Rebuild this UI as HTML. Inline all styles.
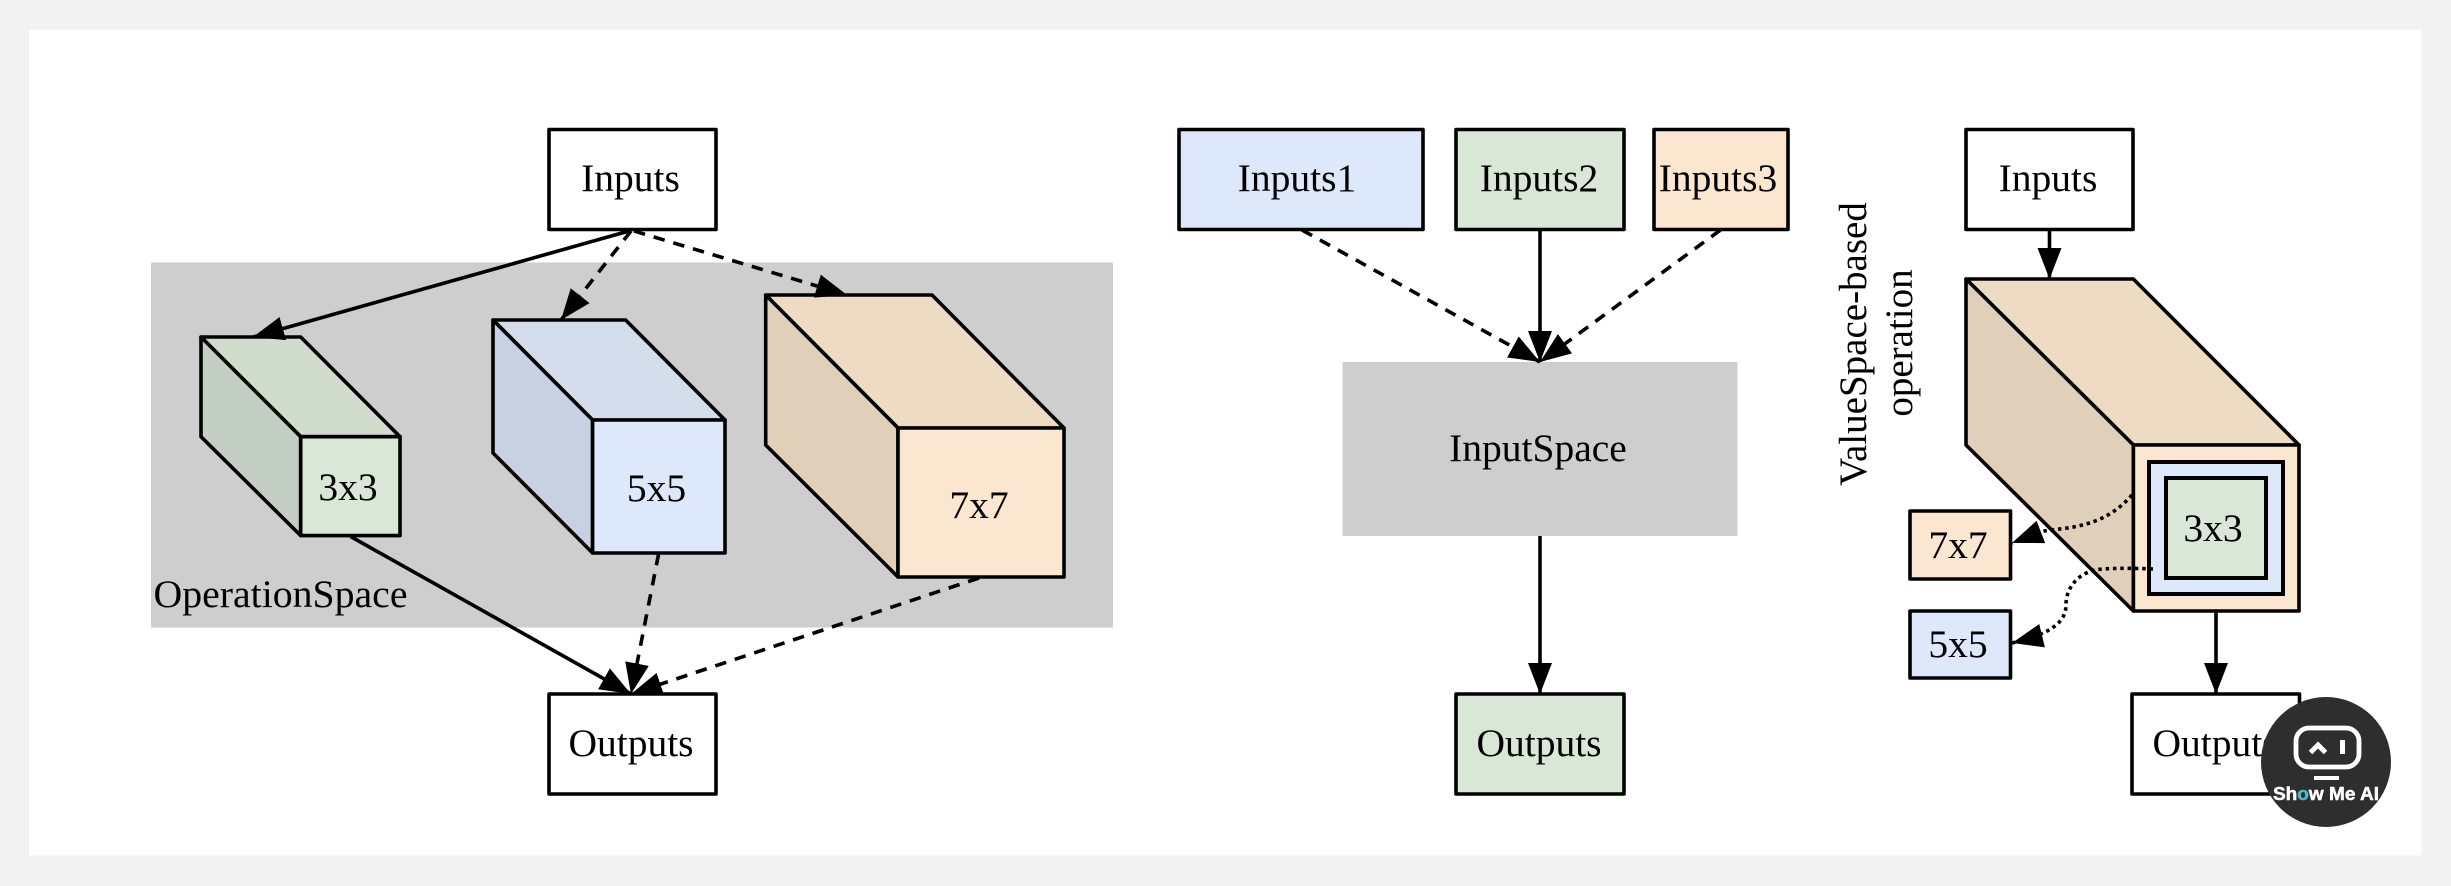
<!DOCTYPE html>
<html><head><meta charset="utf-8"><style>
html,body{margin:0;padding:0;background:#f2f2f2;width:2451px;height:886px;overflow:hidden}
svg{display:block}
text{font-family:"Liberation Serif",serif;font-size:39.5px;fill:#000;text-anchor:middle}
.b{stroke:#000;stroke-width:3.6;stroke-linejoin:round}
.l{stroke:#000;stroke-width:3.6;fill:none;marker-end:url(#a)}
.d{stroke-dasharray:11.500 9}
.o{stroke-dasharray:3.500 3.800;stroke-width:3.600}
</style></head><body>
<svg width="2451" height="886" viewBox="0 0 2451 886" xmlns="http://www.w3.org/2000/svg">
<defs><marker id="a" markerUnits="userSpaceOnUse" markerWidth="36" markerHeight="30" refX="31" refY="12" orient="auto"><path d="M0,0L31,12L0,24z" fill="#000"/></marker></defs>
<rect width="2451" height="886" fill="#f2f2f2"/>
<rect x="29" y="29.500" width="2392.500" height="826" fill="#fff"/>

<!-- Left panel -->
<rect x="151" y="262.500" width="962" height="365" fill="#cecece"/>
<rect class="b" x="549" y="129.500" width="167" height="100" fill="#fff"/>
<text x="630.500" y="191">Inputs</text>
<rect class="b" x="549" y="694" width="167" height="100" fill="#fff"/>
<text x="631" y="756">Outputs</text>

<polygon class="b" points="201,337 300.700,337 400,436.700 300.700,436.700" fill="#d0dccc"/>
<polygon class="b" points="201,337 300.700,436.700 300.700,535.600 201,436.700" fill="#c3cfc2"/>
<rect class="b" x="300.700" y="436.700" width="99.300" height="98.900" fill="#d9e7d6"/>
<text x="348" y="500">3x3</text>

<polygon class="b" points="493,320 625.600,320 725,420 592.600,420" fill="#d3ddec"/>
<polygon class="b" points="493,320 592.600,420 592.600,553 493,453" fill="#c7d1e2"/>
<rect class="b" x="592.600" y="420" width="132.400" height="133" fill="#dde8fa"/>
<text x="656.500" y="501">5x5</text>

<polygon class="b" points="765.700,295 932,295 1064,428 898,428" fill="#eddbc2"/>
<polygon class="b" points="765.700,295 898,428 898,577 765.700,445" fill="#e0cfb9"/>
<rect class="b" x="898" y="428" width="166" height="149" fill="#fbe6d0"/>
<text x="979" y="518">7x7</text>

<text x="280.500" y="607" textLength="254" lengthAdjust="spacingAndGlyphs">OperationSpace</text>

<path class="l" d="M629,231L253,337"/>
<path class="l d" d="M631,231L561,320"/>
<path class="l d" d="M634,231L847,295"/>
<path class="l" d="M350.600,536.500L631,694"/>
<path class="l d" d="M658.600,554L631,694"/>
<path class="l d" d="M979,578L631,694"/>

<!-- Middle panel -->
<rect class="b" x="1179" y="129.500" width="244" height="100" fill="#dde8fa"/>
<text x="1297" y="191">Inputs1</text>
<rect class="b" x="1456" y="129.500" width="168" height="100" fill="#d9e7d6"/>
<text x="1539" y="191">Inputs2</text>
<rect class="b" x="1654" y="129.500" width="134" height="100" fill="#fbe6d0"/>
<text x="1718" y="191">Inputs3</text>
<rect x="1342.500" y="362" width="395" height="174" fill="#cecece"/>
<text x="1538" y="461">InputSpace</text>
<rect class="b" x="1456" y="694" width="168" height="100" fill="#d9e7d6"/>
<text x="1539" y="756">Outputs</text>
<path class="l d" d="M1302,230L1540,362"/>
<path class="l" d="M1540,230L1540,362"/>
<path class="l d" d="M1720.500,230L1540,362"/>
<path class="l" d="M1540,536L1540,694"/>

<!-- Right panel -->
<rect class="b" x="1966" y="129.500" width="167" height="100" fill="#fff"/>
<text x="2048" y="191">Inputs</text>
<path class="l" d="M2049.500,230L2049.500,279"/>
<polygon class="b" points="1966,279 2133.400,279 2299,445 2133.400,445" fill="#eddbc2"/>
<polygon class="b" points="1966,279 2133.400,445 2133.400,611 1966,445" fill="#e0cfb9"/>
<rect class="b" x="2133.400" y="445" width="165.600" height="166" fill="#fbe6d0"/>
<rect x="2149" y="462" width="134" height="132" fill="#dde8fa" stroke="#000" stroke-width="4"/>
<rect x="2166" y="478" width="100" height="100" fill="#d9e7d6" stroke="#000" stroke-width="4"/>
<text x="2213" y="541">3x3</text>
<rect class="b" x="1910" y="511" width="100.500" height="68" fill="#fbe6d0"/>
<text x="1958" y="558">7x7</text>
<rect class="b" x="1910" y="611" width="100.500" height="67" fill="#dde8fa"/>
<text x="1958" y="657">5x5</text>
<rect class="b" x="2132" y="694" width="167.500" height="100" fill="#fff"/>
<text x="2215" y="756">Outputs</text>
<path class="l" d="M2216,611L2216,694"/>
<path class="l o" d="M2132,495C2110,520 2085,527 2050,530C2035,532 2025,538 2012,543"/>
<path class="l o" d="M2153,569C2130,568 2105,568 2095,570C2075,575 2066,590 2066,605C2066,625 2045,635 2012,643"/>
<text transform="translate(1866,344) rotate(-90)" style="font-size:39px">ValueSpace-based</text>
<text transform="translate(1912,343) rotate(-90)" style="font-size:39px">operation</text>

<!-- Logo -->
<ellipse cx="2326" cy="762" rx="65" ry="65" fill="#2e2e2e"/>
<rect x="2296" y="728" width="63" height="39" rx="13" fill="none" stroke="#fff" stroke-width="4.800"/>
<path d="M2310.500,752.500L2318,745L2325.500,752.500" fill="none" stroke="#fff" stroke-width="5"/>
<rect x="2340" y="740" width="5" height="14" fill="#fff"/>
<rect x="2314" y="776" width="25" height="4" fill="#fff"/>
<text x="2326" y="800" textLength="106" lengthAdjust="spacingAndGlyphs" style="font-family:'Liberation Sans',sans-serif;font-weight:bold;font-size:18px;fill:#fff;stroke:#fff;stroke-width:.5">Sh<tspan style="fill:#4fb8c8;stroke:#4fb8c8">o</tspan>w Me AI</text>
</svg>
</body></html>
